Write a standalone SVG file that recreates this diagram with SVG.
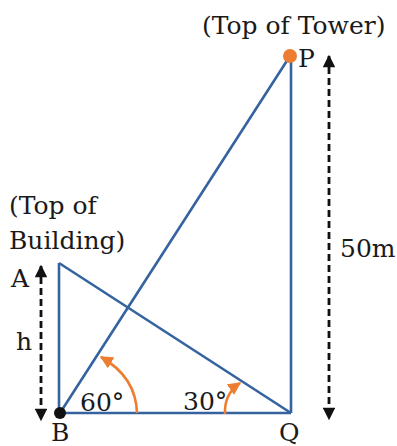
<svg xmlns="http://www.w3.org/2000/svg" width="397" height="446" viewBox="0 0 397 446">
<defs>
<style>
.ln{stroke:#3563A0;stroke-width:2.6;fill:none}
.dash{stroke:#111;stroke-width:2.8;fill:none;stroke-dasharray:7,4}
.arc{stroke:#ED7D31;stroke-width:2.6;fill:none}
.t{font-family:"DejaVu Serif","Liberation Serif",serif;font-size:25px;fill:#1a1a1a}
</style>
<marker id="ah" viewBox="0 0 10 10" refX="9" refY="5" markerWidth="5" markerHeight="4.5" orient="auto-start-reverse" markerUnits="strokeWidth"><path d="M0,0L10,5L0,10z" fill="#111"/></marker>
<marker id="oh" viewBox="0 0 10 10" refX="9" refY="5" markerWidth="5" markerHeight="5" orient="auto" markerUnits="strokeWidth"><path d="M0,0L10,5L0,10z" fill="#ED7D31"/></marker>
</defs>
<rect width="397" height="446" fill="#fff"/>
<g id="connectors">
<line class="ln" x1="59" y1="413" x2="291" y2="413"/>
<line class="ln" x1="291" y1="56" x2="291" y2="413"/>
<line class="ln" x1="59" y1="263" x2="59" y2="413"/>
<line class="ln" x1="59" y1="263" x2="291" y2="413"/>
<line class="ln" x1="60" y1="413" x2="290" y2="56"/>
<line class="dash" x1="329" y1="56" x2="329" y2="419" marker-start="url(#ah)" marker-end="url(#ah)"/>
<line class="dash" x1="41" y1="266" x2="41" y2="420" marker-start="url(#ah)" marker-end="url(#ah)"/>
<path class="arc" d="M137,413 Q136,377 101,357" marker-end="url(#oh)"/>
<path class="arc" d="M225,414 Q224,394 240,383" marker-end="url(#oh)"/>
</g>
<g id="P"><circle cx="290" cy="56" r="7" fill="#ED7D31"/><text class="t" x="298" y="67">P</text></g>
<g id="tower-label"><text class="t" x="202" y="34">(Top of Tower)</text></g>
<g id="building-label"><text class="t" x="9" y="214">(Top of</text><text class="t" x="9" y="249">Building)</text></g>
<g id="A"><text class="t" x="11" y="287">A</text></g>
<g id="h"><text class="t" x="16" y="350">h</text></g>
<g id="height50"><text class="t" x="340" y="257">50m</text></g>
<g id="B"><circle cx="60" cy="413" r="6" fill="#111"/><text class="t" x="51" y="441">B</text></g>
<g id="Q"><text class="t" x="279" y="441">Q</text></g>
<g id="angle60"><text class="t" x="80" y="411">60°</text></g>
<g id="angle30"><text class="t" x="183" y="410">30°</text></g>
</svg>
